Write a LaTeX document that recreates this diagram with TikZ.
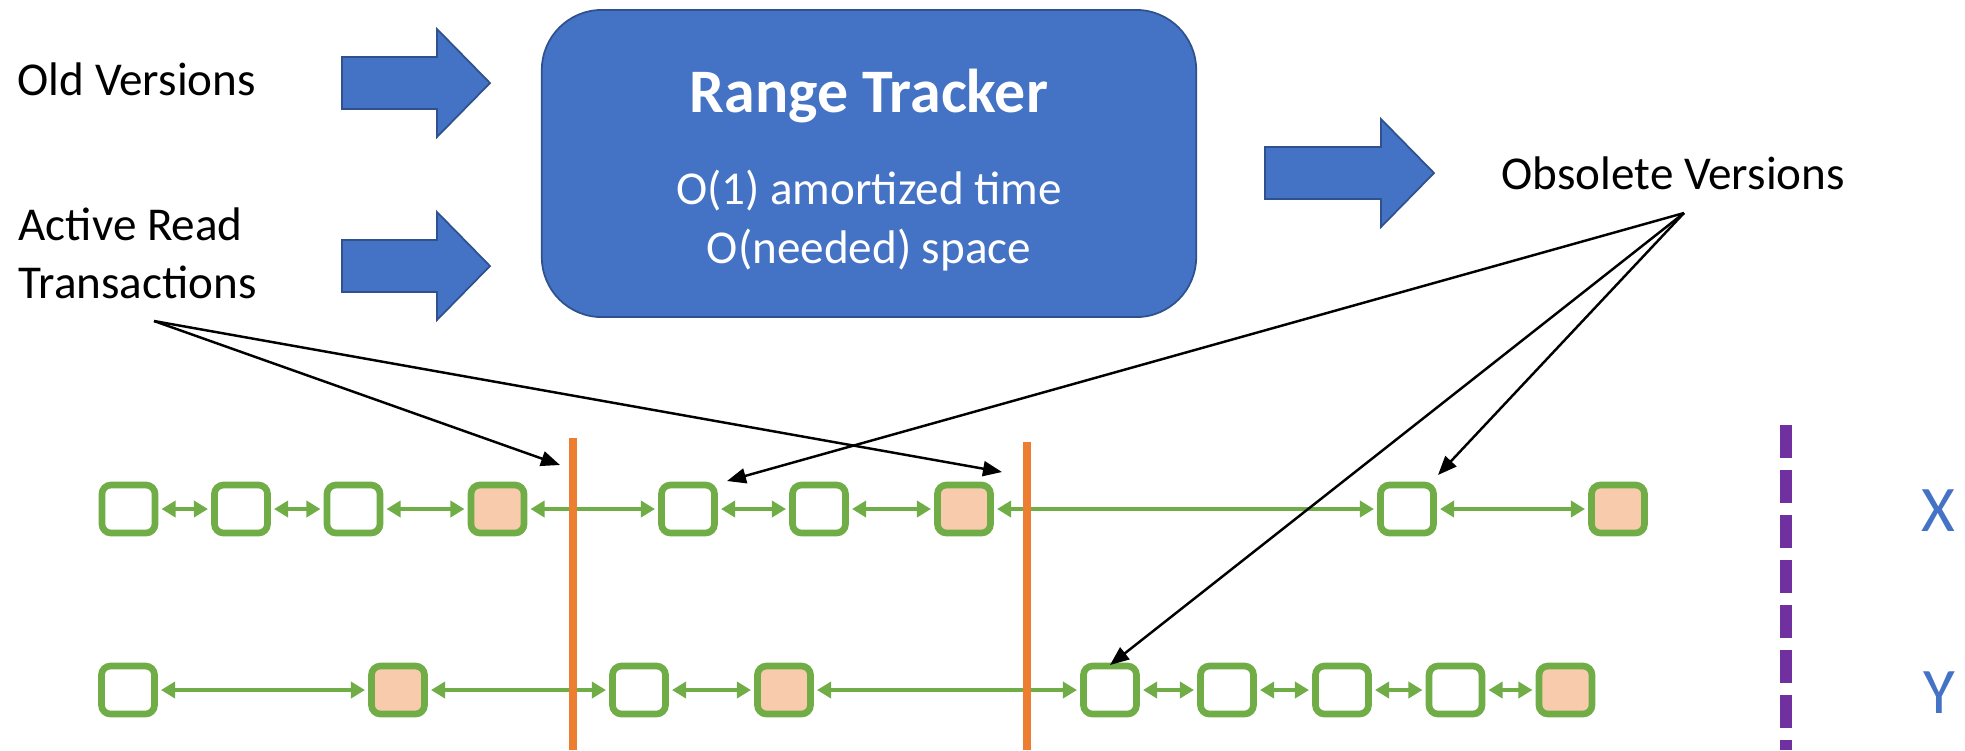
\documentclass[tikz,border=0pt]{standalone}
\usepackage{fontspec}
\setmainfont{Carlito}
\usetikzlibrary{arrows.meta}

\definecolor{tblue}{HTML}{4472C4}
\definecolor{tbluedark}{HTML}{2F528F}
\definecolor{vgreen}{HTML}{70AD47}
\definecolor{vpeach}{HTML}{F8CBAD}
\definecolor{cutorange}{HTML}{ED7D31}
\definecolor{splitpurple}{HTML}{7030A0}

\tikzset{
  lbl/.style={inner sep=0pt, font=\fontsize{13.4pt}{16.5pt}\selectfont},
  ver/.style={draw=vgreen, line width=1.9pt, rounded corners=0.09cm,
    minimum width=0.53cm, minimum height=0.48cm, inner sep=0pt, fill=white},
  oldver/.style={ver, fill=vpeach},
  link/.style={draw=vgreen, line width=1.35pt, shorten <=0.9pt, shorten >=0.9pt,
    {Triangle[length=0.14cm,width=0.16cm]}-{Triangle[length=0.14cm,width=0.16cm]}},
  ptr/.style={draw=black, line width=0.7pt, -{Triangle[length=0.19cm,width=0.15cm]}},
  cut/.style={draw=cutorange, line width=2pt},
  bigarrow/.style={fill=tblue, draw=tbluedark, line width=0.5pt},
  pics/fatarrow/.style={code={
    \path[bigarrow] (0,-26) -- (#1,-26) -- (#1,-54) -- ({#1+53},0)
      -- (#1,54) -- (#1,26) -- (0,26) -- cycle;}},
}

\begin{document}
\begin{tikzpicture}[x=0.01cm, y=-0.01cm]
\useasboundingbox (0,0) rectangle (1965,750);

% inputs of the tracker
\node[lbl, anchor=base west] (old) at (17,95) {Old Versions};
\node[lbl, anchor=base west] (active) at (18,240)
  {\vtop{\hbox{Active Read}\hbox{Transactions}}};
\pic at (342,83) {fatarrow=95};
\pic at (342,266) {fatarrow=95};

% the tracker itself
\node[draw=tbluedark, fill=tblue, line width=0.5pt, rounded corners=0.6cm,
  minimum width=6.54cm, minimum height=3.07cm] (tracker) at (869,163.5) {};
\node[font=\fontsize{17.6pt}{21pt}\selectfont\bfseries, text=white,
  anchor=base, inner sep=0pt] (title) at (869,112) {Range Tracker};
\node[lbl, text=white, anchor=base] (cost1) at (869,204) {O(1) amortized time};
\node[lbl, text=white, anchor=base] (cost2) at (869,263) {O(needed) space};

% output
\pic at (1265,173) {fatarrow=116};
\node[lbl, anchor=base west] (obs) at (1501,189) {Obsolete Versions};

% version chain of key X
\foreach \n/\x in {1/128.5,2/241,3/353.5,5/688,6/819,8/1407}
  \node[ver] (x\n) at (\x,509) {};
\foreach \n/\x in {4/497.5,7/964,9/1618}
  \node[oldver] (x\n) at (\x,509) {};
\foreach \a/\b in {1/2,2/3,3/4,4/5,5/6,6/7,7/8,8/9}
  \draw[link] (x\a) -- (x\b);

% version chain of key Y
\foreach \n/\x in {1/128,3/639,5/1110,6/1227,7/1342,8/1455.5}
  \node[ver] (y\n) at (\x,690) {};
\foreach \n/\x in {2/398,4/784,9/1565.5}
  \node[oldver] (y\n) at (\x,690) {};
\foreach \a/\b in {1/2,2/3,3/4,4/5,5/6,6/7,7/8,8/9}
  \draw[link] (y\a) -- (y\b);

% read transaction timestamps
\coordinate (c1top) at (573,438);
\coordinate (c1bot) at (573,750);
\coordinate (c2top) at (1027,442);
\coordinate (c2bot) at (1027,750);
\draw[cut] (c1top) -- (c1bot);
\draw[cut] (c2top) -- (c2bot);

% key separator
\coordinate (septop) at (1786,425);
\coordinate (sepbot) at (1786,750);
\draw[splitpurple, line width=3.4pt, dash pattern=on 0.33cm off 0.12cm]
  (septop) -- (sepbot);
\node[font=\fontsize{18.5pt}{22pt}\selectfont, text=tblue, anchor=base,
  inner sep=0pt] (keyx) at (1938,531) {X};
\node[font=\fontsize{18.5pt}{22pt}\selectfont, text=tblue, anchor=base,
  inner sep=0pt] (keyy) at (1939,713) {Y};

% pointers from the labels
\coordinate (actsrc) at (154,321);
\coordinate (obssrc) at (1684,213);
\coordinate (c1mark) at (560,465);
\coordinate (c2mark) at (1002,472);
\coordinate (x5mark) at (727,481);
\coordinate (x8mark) at (1438,475);
\coordinate (y5mark) at (1110,665);
\draw[ptr] (actsrc) -- (c1mark);
\draw[ptr] (actsrc) -- (c2mark);
\draw[ptr] (obssrc) -- (x5mark);
\draw[ptr] (obssrc) -- (y5mark);
\draw[ptr] (obssrc) -- (x8mark);
\end{tikzpicture}
\end{document}
